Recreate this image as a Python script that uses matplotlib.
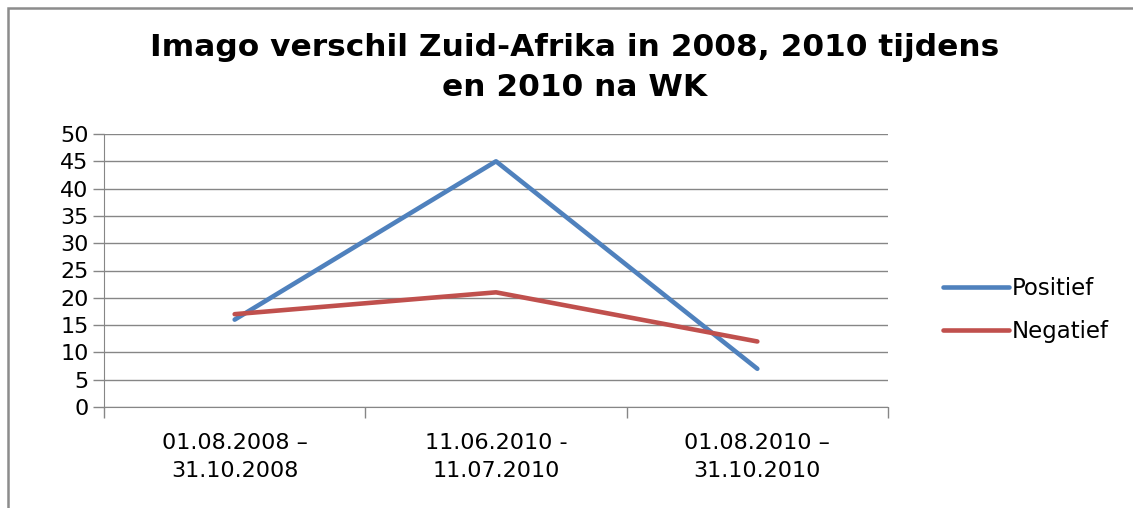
import matplotlib.pyplot as plt
from matplotlib.patches import Rectangle

# data
periods = ['01.08.2008 \u2013\n31.10.2008', '11.06.2010 -\n11.07.2010', '01.08.2010 \u2013\n31.10.2010']
positief = [16, 45, 7]
negatief = [17, 21, 12]
y_ticks = list(range(0, 55, 5))

BLUE = '#4F81BD'
RED = '#C0504D'
GRID = '#868686'

fig = plt.figure(figsize=(11.33, 5.08), dpi=100)
fig.patch.set_facecolor('white')

# outer chart border
fig.patches.append(Rectangle((8 / 1133, -0.1), 1.2, 1.1 - 8 / 508,
                             transform=fig.transFigure, fill=False,
                             edgecolor='#8c8c8c', lw=1.8))

ax = fig.add_axes([104 / 1133, 1 - 407 / 508, (888 - 104) / 1133, (407 - 134) / 508])

x = list(range(len(periods)))
ax.plot(x, positief, color=BLUE, lw=3.3, label='Positief', solid_capstyle='round')
ax.plot(x, negatief, color=RED, lw=3.3, label='Negatief', solid_capstyle='round')

ax.set_xlim(-0.5, len(periods) - 0.5)
ax.set_ylim(0, 50)
ax.set_yticks(y_ticks)
ax.yaxis.grid(True, color=GRID, lw=1)
ax.set_axisbelow(True)

# category ticks sit on the boundaries, labels in the middle
ax.set_xticks([i - 0.5 for i in range(len(periods) + 1)])
ax.set_xticklabels([])
ax.set_xticks(x, minor=True)
ax.set_xticklabels(periods, minor=True, fontsize=16, family='DejaVu Sans', linespacing=1.45)
ax.tick_params(axis='x', which='minor', length=0, pad=19)
ax.tick_params(axis='x', which='major', length=8, color=GRID, width=1)
ax.tick_params(axis='y', length=8, color=GRID, width=1, labelsize=16, pad=3)

for s in ['top', 'right']:
    ax.spines[s].set_visible(False)
ax.spines['left'].set_color(GRID)
ax.spines['bottom'].set_color(GRID)

title_kw = dict(ha='center', va='center', fontsize=22.5, fontweight='bold', family='DejaVu Sans')
fig.text(0.507, 1 - 48 / 508, 'Imago verschil Zuid-Afrika in 2008, 2010 tijdens', **title_kw)
fig.text(0.507, 1 - 88 / 508, 'en 2010 na WK', **title_kw)

fig.legend(loc='center left', bbox_to_anchor=(922 / 1133, 1 - 310 / 508), frameon=False,
           fontsize=16.5, handlelength=2.9, handletextpad=0.1, labelspacing=0.85)

fig.savefig('out.png', dpi=100)
